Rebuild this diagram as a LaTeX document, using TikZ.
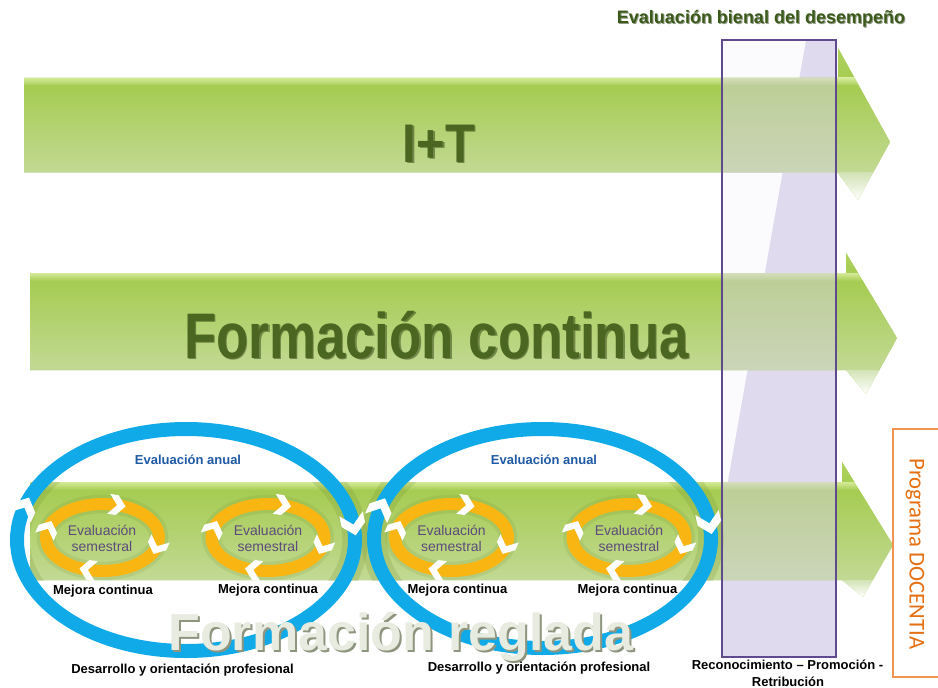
\documentclass[tikz,border=0pt]{standalone}
\usepackage{fontspec}
\setmainfont{Liberation Sans}
\newfontfamily\calibri{Carlito}
\usepackage{graphicx}

\definecolor{gTop}{HTML}{D4EA98}
\definecolor{gMain}{HTML}{A6CC52}
\definecolor{gLow}{HTML}{C2D994}
\definecolor{gFade}{HTML}{D3E3B6}
\definecolor{lav}{HTML}{DFDAEE}
\definecolor{rectPurple}{HTML}{5E4A8C}
\definecolor{grayOv}{HTML}{D4D2DE}
\definecolor{blueR}{HTML}{10AAE8}
\definecolor{orR}{HTML}{F9B612}
\definecolor{halo}{HTML}{6F8A2A}
\definecolor{txtGreen}{HTML}{4B6620}
\definecolor{txtGreenSh}{HTML}{2A3A10}
\definecolor{semTxt}{HTML}{5C4B7C}
\definecolor{annBlue}{HTML}{1F5AA6}
\definecolor{titleGreen}{HTML}{3B5A1A}
\definecolor{docOr}{HTML}{E66F12}
\definecolor{docBorder}{HTML}{F29450}
\definecolor{regFill}{HTML}{E8EBDF}
\definecolor{regShadow}{HTML}{8E957E}

% green arrow: x0, top, bottom, xh, headtop, xtip, ytip, lowx, lowy
\newcommand{\grarrow}[9]{%
  \begin{scope}
    \clip (#1,#2) -- (#4,#2) -- (#4,#5) -- (#6,#7) -- (#8,#9) -- (#4,#3) -- (#1,#3) -- cycle;
    \fill[gMain] (#1,#5) rectangle (#6,#9);
    \shade[top color=gMain!80!gTop, bottom color=gMain] (#1,#5) rectangle (#6,#2);
    \shade[top color=gTop, bottom color=gMain] (#1,#2) rectangle (#6,#2+8);
    \shade[top color=gMain, bottom color=gLow] (#1,#2+8) rectangle (#6,#3);
    \shade[top color=gFade, bottom color=white] (#1,#3) rectangle (#6,#9);
    \fill[grayOv, opacity=0.5] (722,40) rectangle (836,657);
  \end{scope}}

% white chevron on an ellipse: cx, cy, rx, ry, t, half-width, length
\newcommand{\chev}[7]{%
  \pgfmathsetmacro\chx{#1+#3*cos(#5)}%
  \pgfmathsetmacro\chy{#2+#4*sin(#5)}%
  \pgfmathsetmacro\cha{atan2(-#4*cos(#5),-#3*sin(#5))}%
  \fill[white, shift={(\chx,\chy)}, rotate=\cha]
    (-#7/2,-#6) -- (0,-#6) -- (#7/2,0) -- (0,#6) -- (-#7/2,#6) -- (0,0) -- cycle;}

\begin{document}
\begin{tikzpicture}[x=0.75pt,y=-0.75pt,
  bigtxt/.style={font=\bfseries\fontsize{36.75}{40}\selectfont, inner sep=0pt, anchor=base},
  smallbold/.style={font=\bfseries\fontsize{9.75}{11}\selectfont, inner sep=0pt, text=black},
  semest/.style={font=\fontsize{10.5}{12}\selectfont, align=center, inner sep=0pt, text=semTxt},
  annual/.style={font=\bfseries\fontsize{9.75}{11}\selectfont, inner sep=0pt, text=annBlue},
]
\useasboundingbox (0,0) rectangle (938,688);
\fill[white] (0,0) rectangle (938,688);

% biennial evaluation column (background)
\fill[lav] (722,40) rectangle (836,657);
\fill[white, opacity=0.9] (722,40) -- (806,40) -- (722,514) -- cycle;

% green arrows
\grarrow{24}{78}{173}{838}{48}{890}{142}{858}{200}
\grarrow{30}{273}{370}{846}{253}{897}{338}{866}{394}
\grarrow{30}{482}{580}{842}{462}{893}{545}{863}{597}

% halos on third arrow
\begin{scope}
  \clip (30,482) rectangle (842,580);
  \draw[halo, opacity=0.2, line width=19pt] (186,540) ellipse [x radius=169, y radius=111];
  \draw[halo, opacity=0.2, line width=19pt] (542.5,538.5) ellipse [x radius=168.5, y radius=109.5];
  \foreach \cx in {102.5,268,451.5,629} {
    \draw[halo, opacity=0.15, line width=14pt] (\cx,537.5) ellipse [x radius=56.5, y radius=33.5];
  }
\end{scope}

% column outline
\draw[rectPurple, line width=1.5pt] (722,40) rectangle (836,657);

% annual cycles
\draw[blueR, line width=10.5pt] (186,540) ellipse [x radius=169, y radius=111];
\draw[blueR, line width=10.5pt] (542.5,538.5) ellipse [x radius=168.5, y radius=109.5];
\chev{186}{540}{169}{111}{197}{12}{22}
\chev{186}{540}{169}{111}{352}{12}{22}
\chev{542.5}{538.5}{168.5}{109.5}{196}{12}{22}
\chev{542.5}{538.5}{168.5}{109.5}{352}{12}{22}

% semester cycles
\foreach \cx in {102.5,268,451.5,629} {
  \draw[orR, line width=9pt] (\cx,537.5) ellipse [x radius=56.5, y radius=33.5];
  \foreach \t in {285,15,105,195} {
    \chev{\cx}{537.5}{56.5}{33.5}{\t}{10}{17}
  }
}

% texts
\node[bigtxt, text=txtGreenSh, opacity=0.5] (itsh) at (440.5,163.5) {\scalebox{1}[1.11]{I+T}};
\node[bigtxt, text=txtGreen] (it) at (439,162) {\scalebox{1}[1.11]{I+T}};
\node[bigtxt, font=\bfseries\fontsize{39.6}{42}\selectfont, text=txtGreenSh, opacity=0.5] (fcsh) at (438,359.5) {\scalebox{1}[1.22]{Formación continua}};
\node[bigtxt, font=\bfseries\fontsize{39.6}{42}\selectfont, text=txtGreen] (fc) at (436.5,358) {\scalebox{1}[1.22]{Formación continua}};
\node[bigtxt, font=\bfseries\fontsize{39}{42}\selectfont, text=regShadow] (frsh) at (403,652) {Formación reglada};
\node[bigtxt, font=\bfseries\fontsize{39}{42}\selectfont, text=regFill] (fr) at (401,650) {Formación reglada};

\node[font=\bfseries\fontsize{13.5}{15}\selectfont, text=titleGreen!60!black, opacity=0.5, inner sep=0pt] (titlesh) at (762,20) {Evaluación bienal del desempeño};
\node[font=\bfseries\fontsize{13.5}{15}\selectfont, text=titleGreen, inner sep=0pt] (title) at (761,19) {Evaluación bienal del desempeño};

\node[annual] (ann1) at (188,460) {Evaluación anual};
\node[annual] (ann2) at (544,460) {Evaluación anual};

\node[semest] (sem1) at (102,538) {Evaluación\\semestral};
\node[semest] (sem2) at (268,538) {Evaluación\\semestral};
\node[semest] (sem3) at (451.5,538) {Evaluación\\semestral};
\node[semest] (sem4) at (629,538) {Evaluación\\semestral};

\node[smallbold] (mc1) at (103,591) {Mejora continua};
\node[smallbold] (mc2) at (268,590) {Mejora continua};
\node[smallbold] (mc3) at (457.5,590) {Mejora continua};
\node[smallbold] (mc4) at (627.5,590) {Mejora continua};

\node[smallbold] (dop1) at (182.5,670) {Desarrollo y orientación profesional};
\node[smallbold] (dop2) at (539,668) {Desarrollo y orientación profesional};

\node[smallbold] (rpr1) at (787.5,665) {Reconocimiento – Promoción -};
\node[smallbold] (rpr2) at (788,682) {Retribución};

% DOCENTIA
\draw[docBorder, line width=1.6pt] (950,429) -- (893,429) -- (893,677) -- (950,677);
\node[font=\calibri\fontsize{17}{19}\selectfont, text=docOr, rotate=-90, inner sep=0pt] (doc) at (915,554) {Programa DOCENTIA};
\end{tikzpicture}
\end{document}
